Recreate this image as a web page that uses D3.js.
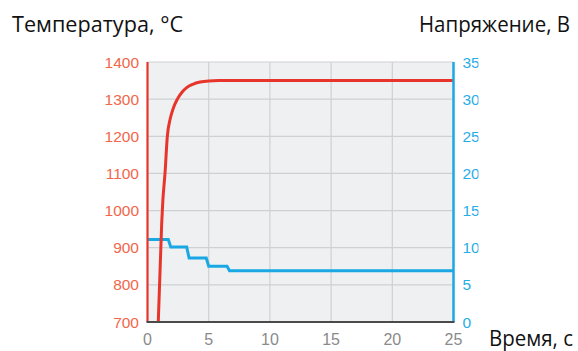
<!DOCTYPE html>
<html>
<head>
<meta charset="utf-8">
<script src="https://cdn.jsdelivr.net/npm/d3@7"></script>
<style>
  html, body { margin: 0; padding: 0; background: #fff; }
  svg { display: block; }
</style>
</head>
<body>
<svg id="chart" width="578" height="351"></svg>
<script>
// Time axis ticks, seconds
const timeTicks = [0, 5, 10, 15, 20, 25];
// Temperature axis ticks, °C
const tempTicks = [700, 800, 900, 1000, 1100, 1200, 1300, 1400];
// Voltage axis ticks, V
const voltTicks = [0, 5, 10, 15, 20, 25, 30, 35];

// Heating curve: time (s) and temperature (°C)
const tempTime   = [0.88, 1.16, 1.26, 1.43, 1.62, 1.84, 2.1, 2.44, 2.8, 3.2, 3.7, 4.3, 5.0, 5.8, 25];
const tempValues = [700, 966, 1030, 1100, 1200, 1245, 1275, 1300, 1318, 1331, 1340, 1346, 1349, 1350, 1350];

// Voltage steps: time (s) and voltage (V)
const voltTime   = [0, 1.7, 1.9, 3.2, 3.4, 4.8, 5.0, 6.5, 6.7, 25];
const voltValues = [11.1, 11.1, 10.1, 10.1, 8.6, 8.6, 7.5, 7.5, 6.9, 6.9];

const svg = d3.select("#chart");
const plotL = 147.5, plotR = 453.5, plotT = 62, plotB = 322;

const x = d3.scaleLinear().domain([0, 25]).range([plotL, plotR]);
const yT = d3.scaleLinear().domain([700, 1400]).range([plotB, plotT]);
const yV = d3.scaleLinear().domain([0, 35]).range([plotB, plotT]);

const red = "#e8352b", blue = "#1aa8e4";
const tickFont = "'Liberation Sans', Arial, sans-serif";
const titleFont = "'Open Sans', Lato, sans-serif";

// plot background
svg.append("rect")
  .attr("x", plotL).attr("y", plotT)
  .attr("width", plotR - plotL).attr("height", plotB - plotT)
  .attr("fill", "#eff0f2");

// grid
svg.append("g").selectAll("line").data(tempTicks.slice(1)).join("line")
  .attr("x1", plotL).attr("x2", plotR)
  .attr("y1", d => yT(d)).attr("y2", d => yT(d))
  .attr("stroke", "#cfd0d3").attr("stroke-width", 1.2);
svg.append("g").selectAll("line").data(timeTicks.slice(1, -1)).join("line")
  .attr("x1", d => x(d)).attr("x2", d => x(d))
  .attr("y1", plotT).attr("y2", plotB)
  .attr("stroke", "#cfd0d3").attr("stroke-width", 1.2);

// voltage line
const voltLine = d3.line().x((d, i) => x(voltTime[i])).y(d => yV(d));
svg.append("path").datum(voltValues)
  .attr("d", voltLine)
  .attr("fill", "none").attr("stroke", blue).attr("stroke-width", 3);

// temperature curve
const tempLine = d3.line().x((d, i) => x(tempTime[i])).y(d => yT(d)).curve(d3.curveMonotoneX);
svg.append("path").datum(tempValues)
  .attr("d", tempLine)
  .attr("fill", "none").attr("stroke", red).attr("stroke-width", 3);

// axes lines
svg.append("line").attr("x1", x(0)).attr("x2", x(0)).attr("y1", plotT).attr("y2", plotB)
  .attr("stroke", red).attr("stroke-width", 2.2);
svg.append("line").attr("x1", x(25)).attr("x2", x(25)).attr("y1", plotT).attr("y2", plotB)
  .attr("stroke", blue).attr("stroke-width", 2.5);
svg.append("line").attr("x1", plotL - 1).attr("x2", plotR + 1).attr("y1", plotB).attr("y2", plotB)
  .attr("stroke", "#4a4a4a").attr("stroke-width", 2);

// left tick labels
svg.append("g").selectAll("text").data(tempTicks).join("text")
  .attr("x", 139).attr("y", d => yT(d)).attr("dy", "0.36em")
  .attr("text-anchor", "end")
  .attr("font-family", tickFont).attr("font-size", 15.5)
  .attr("fill", "#f2664a")
  .text(d => d);

// right tick labels (cropped at the edge of the panel)
svg.append("clipPath").attr("id", "rclip")
  .append("rect").attr("x", 455).attr("y", 40).attr("width", 23.5).attr("height", 300);
svg.append("g").attr("clip-path", "url(#rclip)")
  .selectAll("text").data(voltTicks).join("text")
  .attr("x", 462.5).attr("y", d => yV(d)).attr("dy", "0.36em")
  .attr("font-family", tickFont).attr("font-size", 15.5)
  .attr("fill", "#27aee6")
  .text(d => d);

// bottom tick labels
svg.append("g").selectAll("text").data(timeTicks).join("text")
  .attr("x", d => x(d)).attr("y", 345)
  .attr("text-anchor", "middle")
  .attr("font-family", tickFont).attr("font-size", 16)
  .attr("fill", "#8a8a8a")
  .text(d => d);

// titles
function title(str, xPos, yPos, width) {
  svg.append("text").attr("x", xPos).attr("y", yPos)
    .attr("font-family", titleFont).attr("font-size", 21)
    .attr("font-weight", 500).attr("fill", "#111")
    .attr("textLength", width).attr("lengthAdjust", "spacingAndGlyphs")
    .text(str);
}
title("Температура, °C", 12, 31.5, 171);
title("Напряжение, В", 419, 31.5, 151);
title("Время, с", 489, 346, 84);
</script>
</body>
</html>
